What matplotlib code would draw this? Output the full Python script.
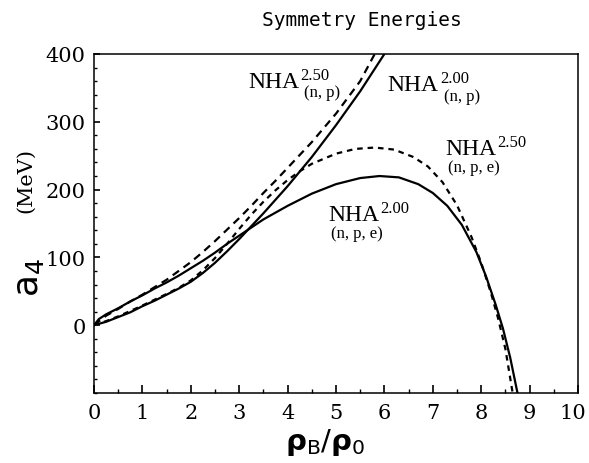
import matplotlib
matplotlib.use("Agg")
import matplotlib.pyplot as plt
from matplotlib.ticker import MultipleLocator
from matplotlib.transforms import ScaledTranslation

# symmetry energy a4 (MeV) vs density rho_B/rho_0
# NHA 2.00, (n,p) - solid
x_np200 = [0, 0.25, 0.5, 0.75, 1, 1.25, 1.5, 1.75, 2, 2.25, 2.5, 2.75, 3,
           3.25, 3.5, 3.75, 4, 4.5, 5, 5.5, 6.0]
y_np200 = [0, 5, 12, 19, 28, 36, 45, 54, 64, 77, 92, 109, 127,
           146, 165, 185, 205, 248, 295, 345, 400]

# NHA 2.50, (n,p) - dashed
x_np250 = [0, 0.25, 0.5, 0.75, 1, 1.25, 1.5, 1.75, 2, 2.25, 2.5, 2.75, 3,
           3.25, 3.5, 3.75, 4, 4.5, 5, 5.5, 5.8]
y_np250 = [0, 14, 24, 35, 45, 56, 67, 80, 93, 108, 124, 141, 158,
           176, 195, 213, 232, 270, 312, 360, 400]

# NHA 2.00, (n,p,e) - solid
x_npe200 = [0, 0.1, 0.25, 0.5, 0.75, 1, 1.25, 1.5, 1.75, 2, 2.25, 2.5, 2.75,
            3, 3.25, 3.5, 3.75, 4, 4.5, 5, 5.5, 5.9, 6.3, 6.7, 7.0, 7.3,
            7.6, 7.9, 8.1, 8.3, 8.45, 8.6, 8.75]
y_npe200 = [0, 9, 16, 25, 35, 44, 54, 63, 73, 84, 95, 107, 120,
            132, 144, 156, 166, 176, 194, 208, 217, 220, 218, 208, 195, 176,
            148, 108, 72, 30, -5, -48, -100]

# NHA 2.50, (n,p,e) - dashed
x_npe250 = [0, 0.25, 0.5, 1, 1.5, 1.75, 2, 2.25, 2.5, 2.75, 3, 3.25, 3.5,
            3.75, 4, 4.25, 4.5, 5, 5.4, 5.8, 6.2, 6.6, 6.9, 7.2, 7.5, 7.8,
            8.0, 8.2, 8.35, 8.5, 8.65]
y_npe250 = [0, 6, 13, 29, 46, 55, 66, 81, 99, 120, 142, 163, 182,
            199, 214, 227, 238, 253, 260, 262, 259, 248, 234, 211, 177, 130,
            92, 48, 10, -35, -100]

x_ticks = list(range(0, 11))
y_ticks = [0, 100, 200, 300, 400]

fig = plt.figure(figsize=(5.89, 4.64), dpi=100)
ax = fig.add_axes([0.1596, 0.1509, 0.8217, 0.7306])

ax.plot(x_np200, y_np200, color="black", lw=1.6)
ax.plot(x_np250, y_np250, color="black", lw=1.6, linestyle=(0, (3.5, 2.5)))
ax.plot(x_npe200, y_npe200, color="black", lw=1.6)
ax.plot(x_npe250, y_npe250, color="black", lw=1.6, linestyle=(0, (2.5, 2.2)))

ax.set_xlim(0, 10)
ax.set_ylim(-100, 400)
ax.set_xticks(x_ticks)
ax.set_yticks(y_ticks)
ax.xaxis.set_minor_locator(MultipleLocator(0.5))
ax.yaxis.set_minor_locator(MultipleLocator(20))
ax.tick_params(axis="x", which="major", direction="in", length=6, width=1.2, pad=7)
ax.tick_params(axis="x", which="minor", direction="in", length=3, width=1.0)
ax.tick_params(axis="y", which="major", direction="in", length=4, width=1.2, pad=6)
ax.tick_params(axis="y", which="minor", direction="in", length=2.5, width=1.0)
for lab in ax.get_xticklabels() + ax.get_yticklabels():
    lab.set_fontfamily("DejaVu Serif")
    lab.set_fontsize(15)
# pull the "10" in a little so it stays on the canvas
last = ax.get_xticklabels()[-1]
last.set_transform(last.get_transform() + ScaledTranslation(-4 / 72, 0, fig.dpi_scale_trans))
for sp in ax.spines.values():
    sp.set_linewidth(1.1)

serif = "Liberation Serif"


def nha_label(x, y, sup, sub, sub_under_nha=False):
    t = ax.text(x, y, "NHA", fontsize=17, family=serif, ha="left", va="baseline")
    s = ax.annotate(sup, xy=(1.0, 0.62), xycoords=t, xytext=(1, 0),
                    textcoords="offset points", fontsize=12, family=serif,
                    ha="left", va="baseline")
    if sub_under_nha:
        ax.annotate(sub, xy=(0.0, 0.0), xycoords=t, xytext=(2, -8.5),
                    textcoords="offset points", fontsize=12, family=serif,
                    ha="left", va="baseline")
    else:
        ax.annotate(sub, xy=(0.0, 0.0), xycoords=s, xytext=(3, -10),
                    textcoords="offset points", fontsize=12, family=serif,
                    ha="left", va="baseline")


nha_label(3.18, 352, "2.50", "(n, p)")
nha_label(6.07, 347, "2.00", "(n, p)")
nha_label(7.25, 252, "2.50", "(n, p, e)", sub_under_nha=True)
nha_label(4.84, 155, "2.00", "(n, p, e)", sub_under_nha=True)

fig.text(0.615, 0.955, "Symmetry Energies", family="DejaVu Sans Mono",
         fontsize=14, ha="center", va="center")
fig.text(0.552, 0.046, r"$\mathbf{\rho}_{\mathrm{B}}/\mathbf{\rho}_{0}$", fontsize=21,
         ha="center", va="center")
fig.text(0.049, 0.403, r"$\mathrm{a}_{4}$", fontsize=26, rotation=90,
         ha="center", va="center")
fig.text(0.043, 0.612, "(MeV)", family="DejaVu Serif", fontsize=15,
         rotation=90, ha="center", va="center")

fig.savefig("out.png", dpi=100)
